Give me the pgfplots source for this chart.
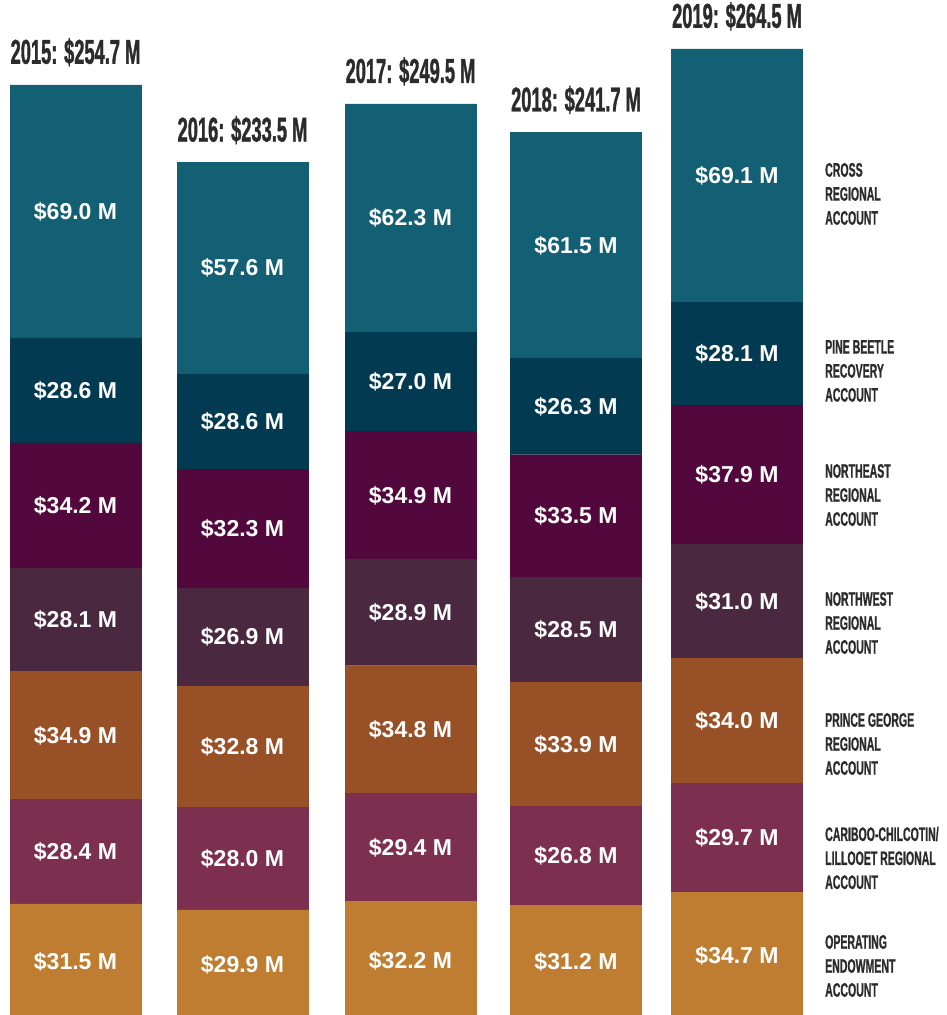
\documentclass[border=0pt]{standalone}
\usepackage{pgfplots}
\pgfplotsset{compat=1.18}
\usepackage{fontspec}
\setmainfont{Liberation Sans}
\newfontfamily\condfont[FakeStretch=0.53,FakeBold=1]{Liberation Sans Bold}
\newfontfamily\legfont[FakeStretch=0.54,FakeBold=0.8]{Liberation Sans Bold}
\definecolor{cross}{HTML}{135F73}
\definecolor{pine}{HTML}{023A52}
\definecolor{ne}{HTML}{52083C}
\definecolor{nw}{HTML}{4A2840}
\definecolor{pg}{HTML}{985127}
\definecolor{car}{HTML}{7C2F4E}
\definecolor{op}{HTML}{BE7D30}
\definecolor{txt}{HTML}{2B2B2B}
\tikzset{
  val/.style={text=white, inner sep=0pt, font=\bfseries\fontsize{23}{27}\selectfont},
  tot/.style={text=txt, anchor=base, inner sep=0pt, yshift=21pt, font=\condfont\fontsize{34.5}{36}\selectfont},
  leg/.style={text=txt, anchor=west, align=left, inner sep=0pt, font=\legfont\fontsize{19.5}{24}\selectfont},
}
\begin{document}
\begin{tikzpicture}
\begin{axis}[
  scale only axis, width=946pt, height=1015pt,
  xmin=0, xmax=946, ymin=1.23, ymax=277.8,
  hide axis, ybar stacked, bar width=131,
  set layers=standard,
  every axis plot/.append style={on layer=axis background, line width=0.4pt},
]
\coordinate (bl) at (rel axis cs:0,0);
\coordinate (tr) at (rel axis cs:1,1);
\addplot[fill=op, draw=op] coordinates {(75.5,31.5) (242.5,29.9) (410.5,32.2) (576,31.2) (737,34.7)};
\addplot[fill=car, draw=car] coordinates {(75.5,28.4) (242.5,28.0) (410.5,29.4) (576,26.8) (737,29.7)};
\addplot[fill=pg, draw=pg] coordinates {(75.5,34.9) (242.5,32.8) (410.5,34.8) (576,33.9) (737,34.0)};
\addplot[fill=nw, draw=nw] coordinates {(75.5,28.1) (242.5,26.9) (410.5,28.9) (576,28.5) (737,31.0)};
\addplot[fill=ne, draw=ne] coordinates {(75.5,34.2) (242.5,32.3) (410.5,34.9) (576,33.5) (737,37.9)};
\addplot[fill=pine, draw=pine] coordinates {(75.5,28.6) (242.5,26.0) (410.5,27.0) (576,26.3) (737,28.1)};
\addplot[fill=cross, draw=cross] coordinates {(75.5,69.0) (242.5,57.6) (410.5,62.3) (576,61.5) (737,69.1)};

% totals
\node[tot] at (axis cs:75.5,254.7) {2015: \$254.7 M};
\node[tot] at (axis cs:242.5,233.5) {2016: \$233.5 M};
\node[tot] at (axis cs:410.5,249.5) {2017: \$249.5 M};
\node[tot] at (axis cs:576,241.7) {2018: \$241.7 M};
\node[tot] at (axis cs:737,264.5) {2019: \$264.5 M};

% 2015
\node[val] at (axis cs:75.5,15.75) {\$31.5 M};
\node[val] at (axis cs:75.5,45.65) {\$28.4 M};
\node[val] at (axis cs:75.5,77.35) {\$34.9 M};
\node[val] at (axis cs:75.5,108.85) {\$28.1 M};
\node[val] at (axis cs:75.5,140.0) {\$34.2 M};
\node[val] at (axis cs:75.5,171.4) {\$28.6 M};
\node[val] at (axis cs:75.5,220.2) {\$69.0 M};
% 2016
\node[val] at (axis cs:242.5,14.95) {\$29.9 M};
\node[val] at (axis cs:242.5,43.9) {\$28.0 M};
\node[val] at (axis cs:242.5,74.3) {\$32.8 M};
\node[val] at (axis cs:242.5,104.15) {\$26.9 M};
\node[val] at (axis cs:242.5,133.75) {\$32.3 M};
\node[val] at (axis cs:242.5,162.9) {\$28.6 M};
\node[val] at (axis cs:242.5,204.7) {\$57.6 M};
% 2017
\node[val] at (axis cs:410.5,16.1) {\$32.2 M};
\node[val] at (axis cs:410.5,46.9) {\$29.4 M};
\node[val] at (axis cs:410.5,79.0) {\$34.8 M};
\node[val] at (axis cs:410.5,110.85) {\$28.9 M};
\node[val] at (axis cs:410.5,142.75) {\$34.9 M};
\node[val] at (axis cs:410.5,173.7) {\$27.0 M};
\node[val] at (axis cs:410.5,218.35) {\$62.3 M};
% 2018
\node[val] at (axis cs:576,15.6) {\$31.2 M};
\node[val] at (axis cs:576,44.6) {\$26.8 M};
\node[val] at (axis cs:576,74.95) {\$33.9 M};
\node[val] at (axis cs:576,106.15) {\$28.5 M};
\node[val] at (axis cs:576,137.15) {\$33.5 M};
\node[val] at (axis cs:576,167.05) {\$26.3 M};
\node[val] at (axis cs:576,210.95) {\$61.5 M};
% 2019
\node[val] at (axis cs:737,17.35) {\$34.7 M};
\node[val] at (axis cs:737,49.55) {\$29.7 M};
\node[val] at (axis cs:737,81.4) {\$34.0 M};
\node[val] at (axis cs:737,113.9) {\$31.0 M};
\node[val] at (axis cs:737,148.35) {\$37.9 M};
\node[val] at (axis cs:737,181.35) {\$28.1 M};
\node[val] at (axis cs:737,229.95) {\$69.1 M};

% legend labels
\node[leg] at (rel axis cs:0.8721,0.8089) {CROSS\\REGIONAL\\ACCOUNT};
\node[leg] at (rel axis cs:0.8721,0.6345) {PINE BEETLE\\RECOVERY\\ACCOUNT};
\node[leg] at (rel axis cs:0.8721,0.5123) {NORTHEAST\\REGIONAL\\ACCOUNT};
\node[leg] at (rel axis cs:0.8721,0.3862) {NORTHWEST\\REGIONAL\\ACCOUNT};
\node[leg] at (rel axis cs:0.8721,0.2670) {PRINCE GEORGE\\REGIONAL\\ACCOUNT};
\node[leg] at (rel axis cs:0.8721,0.1547) {CARIBOO-CHILCOTIN/\\LILLOOET REGIONAL\\ACCOUNT};
\node[leg] at (rel axis cs:0.8721,0.0483) {OPERATING\\ENDOWMENT\\ACCOUNT};
\end{axis}
\pgfresetboundingbox
\path (bl) rectangle (tr);
\end{tikzpicture}
\end{document}
